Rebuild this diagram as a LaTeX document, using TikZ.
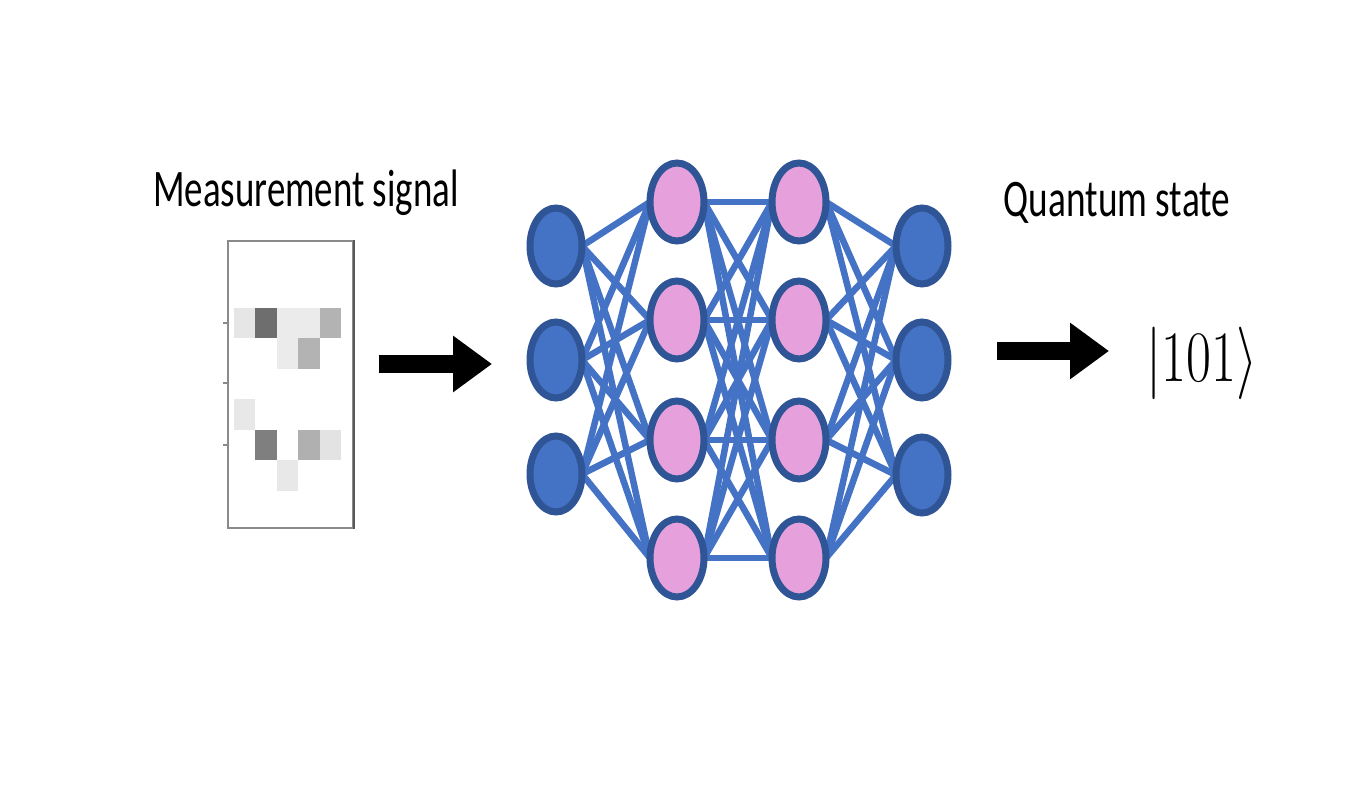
\documentclass[tikz,border=0pt]{standalone}
\usepackage{fontspec}
\newfontfamily\calibri{Carlito}
\usetikzlibrary{shapes.geometric,arrows.meta}
\definecolor{nblue}{HTML}{4472C4}
\definecolor{nborder}{HTML}{2F5597}
\definecolor{npink}{HTML}{E6A0DC}
\definecolor{boxgray}{HTML}{8A8A8A}
\pgfdeclarelayer{bg}
\pgfsetlayers{bg,main}
\tikzset{
  neuron/.style={ellipse, draw=nborder, line width=0.14cm, inner sep=0pt, outer sep=0pt},
  inout/.style={neuron, fill=nblue, minimum width=1.04cm, minimum height=1.52cm},
  hid/.style={neuron, fill=npink, minimum width=1.08cm, minimum height=1.56cm},
  link/.style={nblue, line width=0.13cm},
  bigarrow/.style={line width=0.37cm, -{Triangle[length=0.78cm,width=1.08cm]}},
  lbl/.style={font=\calibri\fontsize{21}{25}\selectfont, anchor=base, inner sep=0pt},
}
\begin{document}
\begin{tikzpicture}[x=0.02cm,y=-0.02cm]
\useasboundingbox (0,0) rectangle (1360,800);
% labels
\node[lbl] (ms) at (306,207) {\scalebox{1}[1.43]{Measurement signal}};
\node[lbl] (qs) at (1117,217) {\scalebox{1.01}[1.43]{Quantum state}};
% measurement signal box
\node[draw=boxgray, line width=0.04cm, minimum width=2.5cm, minimum height=5.74cm, inner sep=0pt, anchor=north west] (sig) at (227,240) {};
\draw[black!65, line width=0.05cm] (sig.north east) -- (sig.south east);
\foreach \yy in {323,383,445} \draw[boxgray, line width=0.04cm] (227,\yy) -- (223,\yy);
% pixels (column start x, row start y, colour)
\foreach \cx/\cy/\cc in {234/308/E6E6E6, 255.4/308/6E6E6E, 276.8/308/EBEBEB, 298.2/308/EBEBEB, 319.6/308/B3B3B3,
  276.8/338.5/EBEBEB, 298.2/338.5/B3B3B3,
  234/399.5/E8E8E8,
  255.4/430/7F7F7F, 298.2/430/B0B0B0, 319.6/430/E3E3E3,
  276.8/460.5/E8E8E8}
{ \definecolor{pc}{HTML}{\cc}\fill[pc] (\cx,\cy) rectangle +(21.4,30.5); }
% network nodes
\node[inout] (i1) at (556,246) {};
\node[inout] (i2) at (556,360) {};
\node[inout] (i3) at (556,474) {};
\node[hid] (a1) at (677,202) {};
\node[hid] (a2) at (677,320) {};
\node[hid] (a3) at (677,440) {};
\node[hid] (a4) at (677,558) {};
\node[hid] (b1) at (799,202) {};
\node[hid] (b2) at (799,320) {};
\node[hid] (b3) at (799,440) {};
\node[hid] (b4) at (799,558) {};
\node[inout] (o1) at (922,246) {};
\node[inout] (o2) at (922,360) {};
\node[inout] (o3) at (922,475) {};
\begin{pgfonlayer}{bg}
\foreach \s in {1,2,3} \foreach \t in {1,2,3,4} \draw[link] (i\s.east) -- (a\t.west);
\foreach \s in {1,2,3,4} \foreach \t in {1,2,3,4} \draw[link] (a\s.east) -- (b\t.west);
\foreach \s in {1,2,3,4} \foreach \t in {1,2,3} \draw[link] (b\s.east) -- (o\t.west);
\end{pgfonlayer}
% arrows
\coordinate (p1s) at (379,364);
\coordinate (p1e) at (492,364);
\draw[bigarrow] (p1s) -- (p1e);
\coordinate (p2s) at (997,351);
\coordinate (p2e) at (1109,351);
\draw[bigarrow] (p2s) -- (p2e);
% ket
\node[anchor=base, inner sep=0pt, font=\fontsize{24.88}{30}\selectfont] (ket) at (1202,382) {\scalebox{1.24}[1.66]{$|101\rangle$}};
\end{tikzpicture}
\end{document}
